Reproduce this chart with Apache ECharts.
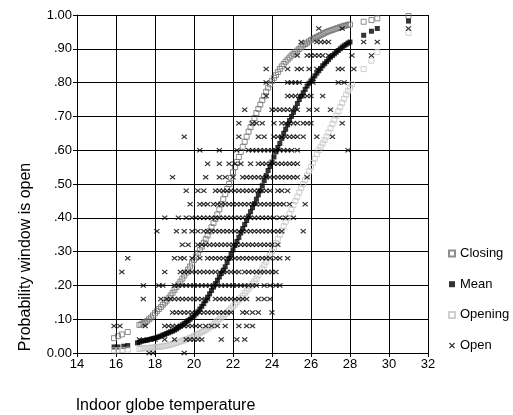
<!DOCTYPE html>
<html>
<head>
<meta charset="utf-8">
<script src="https://cdn.jsdelivr.net/npm/echarts@6/dist/echarts.min.js"></script>
<style>
html,body{margin:0;padding:0;background:#fff}
#chart{width:513px;height:415px}
</style>
</head>
<body>
<div id="chart"></div>
<script>
// curves (temperature, probability)
var closingT = [15.9,16.1,16.3,16.6,
    17.2,17.3,17.4,17.5,17.6,17.7,17.8,17.9,18.0,18.1,18.2,18.3,18.4,18.5,18.6,18.7,18.8,18.9,19.0,19.1,19.2,19.3,19.4,19.5,19.6,19.7,19.8,19.9,
    20.0,20.1,20.2,20.3,20.4,20.5,20.6,20.7,20.8,20.9,21.0,21.1,21.2,21.3,21.4,21.5,21.6,21.7,21.8,21.9,22.0,22.1,22.2,22.3,22.4,22.5,22.6,22.7,22.8,22.9,
    23.0,23.1,23.2,23.3,23.4,23.5,23.6,23.7,23.8,23.9,24.0,24.1,24.2,24.3,24.4,24.5,24.6,24.7,24.8,24.9,25.0,25.1,25.2,25.3,25.4,25.5,25.6,25.7,25.8,25.9,
    26.0,26.1,26.2,26.3,26.4,26.5,26.6,26.7,26.8,26.9,27.0,27.1,27.2,27.3,27.4,27.5,27.6,27.7,27.8,27.9,28.0,
    28.7,29.1,29.4,31.0];
var closingP = [.044,.05,.055,.062,
    .083,.085,.088,.091,.095,.10,.105,.111,.118,.124,.13,.136,.143,.149,.155,.162,.17,.178,.187,.195,.203,.211,.22,.229,.238,.247,.256,.265,
    .275,.285,.295,.305,.315,.326,.337,.348,.36,.372,.385,.397,.41,.425,.44,.455,.47,.485,.50,.518,.535,.55,.565,.58,.595,.61,.625,.64,.655,.668,
    .68,.695,.71,.722,.735,.748,.76,.773,.785,.795,.805,.814,.822,.831,.84,.848,.855,.862,.868,.874,.88,.885,.89,.895,.90,.905,.91,.914,.918,.922,
    .926,.929,.932,.935,.938,.941,.944,.947,.95,.952,.954,.956,.958,.96,.962,.964,.966,.968,.969,.971,.972,
    .98,.985,.99,.997];

var meanT = [15.9,16.1,16.4,16.6,
    17.1,17.2,17.3,17.4,17.5,17.6,17.7,17.8,17.9,18.0,18.1,18.2,18.3,18.4,18.5,18.6,18.7,18.8,18.9,19.0,19.1,19.2,19.3,19.4,19.5,19.6,19.7,19.8,19.9,
    20.0,20.1,20.2,20.3,20.4,20.5,20.6,20.7,20.8,20.9,21.0,21.1,21.2,21.3,21.4,21.5,21.6,21.7,21.8,21.9,22.0,22.1,22.2,22.3,22.4,22.5,22.6,22.7,22.8,22.9,
    23.0,23.1,23.2,23.3,23.4,23.5,23.6,23.7,23.8,23.9,24.0,24.1,24.2,24.3,24.4,24.5,24.6,24.7,24.8,24.9,25.0,25.1,25.2,25.3,25.4,25.5,25.6,25.7,25.8,25.9,
    26.0,26.1,26.2,26.3,26.4,26.5,26.6,26.7,26.8,26.9,27.0,27.1,27.2,27.3,27.4,27.5,27.6,27.7,27.8,27.9,28.0,
    28.7,29.1,29.4,31.0];
var meanP = [.018,.018,.02,.022,
    .03,.032,.035,.036,.037,.038,.04,.041,.043,.044,.046,.048,.05,.053,.055,.058,.06,.063,.065,.068,.071,.075,.079,.083,.087,.092,.096,.10,.105,
    .11,.116,.122,.13,.138,.146,.155,.165,.175,.185,.195,.205,.215,.225,.235,.245,.255,.268,.28,.292,.305,.318,.33,.342,.355,.368,.38,.392,.405,.418,
    .43,.442,.455,.468,.48,.495,.51,.525,.54,.552,.565,.58,.595,.608,.62,.635,.65,.662,.675,.688,.70,.712,.725,.738,.75,.76,.77,.78,.79,.798,
    .805,.812,.82,.828,.835,.842,.85,.856,.862,.868,.875,.88,.885,.89,.895,.90,.905,.909,.913,.917,.92,
    .94,.952,.96,.982];

var openingT = [15.9,16.1,16.3,16.6,
    17.2,17.3,17.4,17.5,17.6,17.7,17.8,17.9,18.0,18.1,18.2,18.3,18.4,18.5,18.6,18.7,18.8,18.9,19.0,19.1,19.2,19.3,19.4,19.5,19.6,19.7,19.8,19.9,
    20.0,20.1,20.2,20.3,20.4,20.5,20.6,20.7,20.8,20.9,21.0,21.1,21.2,21.3,21.4,21.5,21.6,21.7,21.8,21.9,22.0,22.1,22.2,22.3,22.4,22.5,22.6,22.7,22.8,22.9,
    23.0,23.1,23.2,23.3,23.4,23.5,23.6,23.7,23.8,23.9,24.0,24.1,24.2,24.3,24.4,24.5,24.6,24.7,24.8,24.9,25.0,25.1,25.2,25.3,25.4,25.5,25.6,25.7,25.8,25.9,
    26.0,26.1,26.2,26.3,26.4,26.5,26.6,26.7,26.8,26.9,27.0,27.1,27.2,27.3,27.4,27.5,27.6,27.7,27.8,27.9,28.0,28.1,
    28.7,29.1,29.4,31.0];
var openingP = [.008,.008,.009,.01,
    .012,.013,.014,.014,.015,.015,.016,.016,.017,.018,.018,.019,.02,.021,.022,.023,.025,.026,.028,.03,.032,.034,.036,.038,.04,.042,.045,.047,
    .05,.053,.056,.059,.062,.065,.068,.072,.076,.08,.085,.09,.095,.10,.105,.11,.115,.121,.127,.132,.138,.144,.15,.156,.163,.17,.177,.183,.19,.197,
    .205,.212,.22,.23,.24,.25,.26,.27,.28,.29,.30,.312,.325,.338,.35,.362,.375,.388,.40,.412,.425,.438,.45,.462,.475,.488,.50,.512,.525,.538,
    .55,.562,.575,.588,.60,.61,.62,.63,.64,.652,.665,.678,.69,.702,.715,.728,.74,.752,.765,.775,.785,.795,
    .84,.865,.89,.947];

// observed "open" proportions: one row of temperatures per probability level
var openLevels = [0,.04,.08,.12,.16,.20,.24,.28,.32,.36,.40,.44,.48,.52,.56,.60,.64,.68,.72,.76,.80,.84,.88,.92,.96];
var openTemps = [
    [17.7,17.9,19.5],
    [17.2,17.6,18.0,18.5,19.0,19.6,19.8,20.0,20.2,20.4,21.4,22.2,22.6],
    [15.9,16.2,17.5,18.5,18.7,18.9,19.1,19.3,19.5,19.7,19.9,20.1,20.3,20.6,20.9,21.2,21.6,22.3,22.7,23.0],
    [18.9,19.1,19.3,19.5,19.7,19.9,20.1,20.3,20.5,20.7,20.9,21.1,21.3,21.5,21.7,21.9,22.5,22.7,23.0,23.3,24.0],
    [17.4,18.3,18.6,18.8,19.0,19.2,19.4,19.6,19.8,20.0,20.2,20.4,20.7,21.1,21.3,21.5,21.7,21.9,22.1,22.3,22.5,22.7,23.3,23.6,23.9],
    [17.4,18.2,18.4,19.0,19.2,19.4,19.6,19.8,20.0,20.2,20.4,20.6,20.8,21.0,21.2,21.4,21.6,21.8,22.0,22.2,22.4,22.6,22.8,23.0,23.2,23.6,23.9,24.2,24.4],
    [16.3,18.5,19.3,19.5,19.7,19.9,20.1,20.3,20.5,20.7,20.9,21.1,21.3,21.5,21.7,21.9,22.1,22.3,22.6,22.8,23.0,23.2,23.4,23.6,23.8,24.0,24.2],
    [16.6,19.0,19.3,19.5,19.9,20.3,20.7,20.9,21.1,21.3,21.5,21.7,21.9,22.1,22.3,22.5,22.7,22.9,23.1,23.3,23.5,23.7,23.9,24.2,24.4,24.8],
    [19.4,19.7,20.2,20.4,20.6,20.8,21.0,21.2,21.4,21.6,21.8,22.0,22.2,22.4,22.6,22.8,23.0,23.2,23.4,23.6,23.8,24.0,24.3],
    [18.1,19.1,19.5,19.9,20.2,20.5,20.7,20.9,21.1,21.3,21.5,21.7,21.9,22.1,22.3,22.5,22.7,22.9,23.1,23.3,23.5,23.7,23.9,24.1,24.3,24.5,25.6],
    [18.5,19.2,19.6,19.9,20.1,20.3,20.5,20.7,20.9,21.1,21.3,21.5,21.7,21.9,22.1,22.3,22.5,22.7,22.9,23.1,23.3,23.5,23.7,23.9,24.1,24.4,24.7,25.1],
    [19.8,20.3,20.5,20.7,21.0,21.2,21.4,21.6,21.8,22.0,22.2,22.4,22.6,22.8,23.0,23.2,23.4,23.6,23.8,24.0,24.2,24.4,24.6,24.9,25.7],
    [19.6,20.2,20.5,21.1,21.3,21.5,21.7,21.9,22.1,22.3,22.5,22.7,22.9,23.1,23.3,23.5,23.7,23.9,24.3,24.5,24.8],
    [18.9,20.6,21.3,21.6,22.0,22.5,22.7,22.9,23.1,23.3,23.5,23.7,23.9,24.1,24.3,24.5,24.7,24.9,25.1,25.3,25.8],
    [20.7,21.3,21.8,22.1,22.4,22.9,23.3,23.5,23.7,23.9,24.1,24.3,24.5,24.7,24.9,25.1,25.3],
    [20.3,21.3,22.2,22.8,23.0,23.2,23.4,23.6,23.8,24.0,24.2,24.4,24.6,24.8,25.0,25.3,27.9],
    [19.5,22.3,23.3,23.6,24.1,24.3,24.5,24.7,24.9,25.1,25.3,25.6,26.3,27.1],
    [22.3,23.0,23.2,23.5,24.1,24.5,24.7,24.9,25.1,25.3,25.6,25.8,26.0,27.6],
    [22.6,24.0,24.2,24.4,24.6,24.8,25.0,25.3,25.9,26.3,27.0],
    [23.7,24.8,25.0,25.2,25.4,25.6,25.8,26.0,26.6],
    [23.7,24.8,25.0,25.2,25.4,26.1,27.4,27.7],
    [23.7,24.8,25.3,25.5,25.9,26.3,27.4,27.6,28.2],
    [25.3,25.8,26.0,26.2,26.4,26.6,26.9,28.1,29.1],
    [25.5,26.3,26.5,26.7,26.9,28.7,29.4],
    [26.4,27.6,31.0]
];

var seriesNames = ['Closing', 'Mean', 'Opening', 'Open'];

function pairs(xs, ys) {
    return xs.map(function (x, i) { return [x, ys[i]]; });
}

var openData = [];
openLevels.forEach(function (p, i) {
    openTemps[i].forEach(function (t) { openData.push([t, p]); });
});

var font = 'Liberation Sans, Arial, sans-serif';
// filled "x" outline so it can be drawn as a normal symbol
var crossPath = 'path://M0,1.5L1.5,0L5,3.5L8.5,0L10,1.5L6.5,5L10,8.5L8.5,10L5,6.5L1.5,10L0,8.5L3.5,5Z';

var chart = echarts.init(document.getElementById('chart'));
chart.setOption({
    animation: false,
    backgroundColor: '#fff',
    grid: { left: 77, right: 85, top: 15, bottom: 62, outerBoundsMode: 'none' },
    legend: {
        orient: 'vertical',
        left: 443,
        top: 242,
        itemWidth: 6,
        itemHeight: 6,
        itemGap: 17.7,
        textStyle: { fontFamily: font, fontSize: 13, color: '#000', lineHeight: 13 },
        data: seriesNames
    },
    xAxis: {
        type: 'value',
        min: 14, max: 32, interval: 2,
        name: 'Indoor globe temperature',
        nameLocation: 'middle',
        nameGap: 45,
        nameTextStyle: { fontFamily: font, fontSize: 16, color: '#000', padding: [0, 174, 0, 0] },
        axisLine: { onZero: false, lineStyle: { color: '#000' } },
        axisTick: { length: 4, lineStyle: { color: '#000' } },
        axisLabel: { fontFamily: font, fontSize: 13, color: '#000', margin: 5 },
        splitLine: { show: true, lineStyle: { color: '#000' } }
    },
    yAxis: {
        type: 'value',
        min: 0, max: 1, interval: 0.1,
        name: 'Probability window is open',
        nameLocation: 'middle',
        nameGap: 43,
        nameTextStyle: { fontFamily: font, fontSize: 16, color: '#000', padding: [0, 146, 0, 0] },
        axisLine: { show: true, lineStyle: { color: '#000' } },
        axisTick: { show: true, length: 4, lineStyle: { color: '#000' } },
        axisLabel: {
            fontFamily: font, fontSize: 13, color: '#000', margin: 5,
            formatter: function (v) {
                var s = v.toFixed(2);
                return (v > 0 && v < 1) ? s.substring(1) : s;
            }
        },
        splitLine: { show: true, lineStyle: { color: '#000' } }
    },
    series: [
        {
            name: 'Closing', type: 'scatter', symbol: 'rect', symbolSize: 5,
            itemStyle: { color: 'rgba(255,255,255,0)', borderColor: '#707070', borderWidth: 1 },
            data: pairs(closingT, closingP)
        },
        {
            name: 'Mean', type: 'scatter', symbol: 'rect', symbolSize: 5,
            itemStyle: { color: '#000' },
            data: pairs(meanT, meanP)
        },
        {
            name: 'Opening', type: 'scatter', symbol: 'rect', symbolSize: 5,
            itemStyle: { color: 'rgba(255,255,255,0)', borderColor: '#c4c4c4', borderWidth: 1 },
            data: pairs(openingT, openingP)
        },
        {
            name: 'Open', type: 'scatter', symbol: crossPath, symbolSize: [6, 5],
            itemStyle: { color: '#000' },
            data: openData
        }
    ]
});
</script>
</body>
</html>
